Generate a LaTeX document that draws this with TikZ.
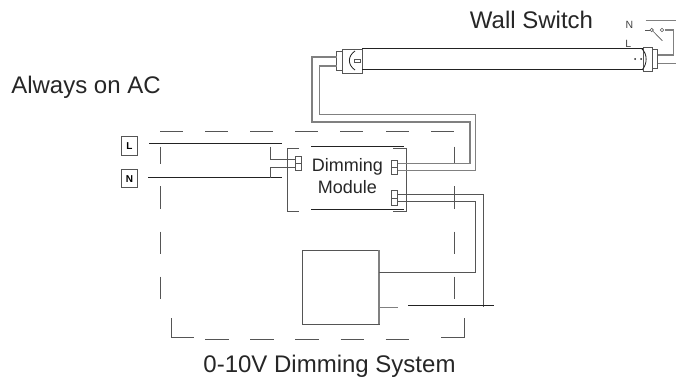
\documentclass[tikz,border=0pt]{standalone}
\usepackage{fontspec}
\setmainfont{Liberation Sans}
\definecolor{wireblack}{HTML}{222222}
\definecolor{wiredark}{HTML}{555555}
\definecolor{wiregray}{HTML}{808080}
\tikzset{
  node distance=2.5cm, auto,
  title/.style={font=\fontsize{18}{22}\selectfont, text=black!85, inner sep=0pt},
  bigtitle/.style={font=\fontsize{24}{28}\selectfont, text=black!85, inner sep=0pt, anchor=base},
  swlabel/.style={font=\fontsize{10.5}{10.5}\selectfont, text=black!75, inner sep=0pt},
  terminal/.style={draw=wiredark, line width=0.7pt, inner sep=0pt, outer sep=0pt, minimum width=6pt, minimum height=6.8pt},
  mainsbox/.style={draw=wiredark, line width=1pt, inner sep=0pt, outer sep=0pt, minimum width=15.6pt, minimum height=18.5pt, font=\fontsize{10}{10}\bfseries\selectfont},
  capbox/.style={draw=wiredark, line width=0.8pt, inner sep=0pt, outer sep=0pt},
  frame/.style={draw=wiredark, line width=0.8pt},
  blackline/.style={draw=wireblack, line width=1pt},
  darkwire/.style={draw=wiredark, line width=1pt},
  graywire/.style={draw=wiregray, line width=1.3pt},
}

\begin{document}
\begin{tikzpicture}[x=1pt,y=-1pt]
  \useasboundingbox (0,0) rectangle (676,380);
  % texts
  \node[bigtitle] (Wall)   at (531.5,28.3)  {Wall Switch};
  \node[bigtitle] (Always) at (86,93.5)     {Always on AC};
  \node[bigtitle] (System) at (329.5,372.7) {0-10V Dimming System};
  \node[title, align=center] (Mod) at (347.3,176) {Dimming\\Module};
  \node[swlabel] (Nsw) at (629.3,24.5) {N};
  \node[swlabel] (Lsw) at (628.3,43.5) {L};
  % mains
  \node[mainsbox] (L) at (129.5,145.8) {L};
  \node[mainsbox] (N) at (129.5,178.6) {N};
  \coordinate (La) at (149,143.3);  \coordinate (Lb) at (282,143.3);
  \coordinate (Na) at (148,177.3);  \coordinate (Nb) at (282,177.3);
  \draw[blackline] (La) to (Lb);
  \draw[blackline] (Na) to (Nb);
  % dashed frame
  \foreach \x in {160,205,250,295,340,386,431}
    \draw[frame] (\x,131) -- (\x+23.3,131);
  \foreach \x in {205,250,295,340.5,385.5}
    \draw[frame] (\x,339) -- (\x+23.5,339);
  \foreach \y/\z in {146.7/164,186/209,231.7/254.3,276.7/299.3} {
    \draw[frame] (160,\y) -- (160,\z);
    \draw[frame] (454.3,\y) -- (454.3,\z);
  }
  \draw[frame] (171.7,318) -- (171.7,337) -- (194.3,337);
  \draw[frame] (441,337) -- (464.3,337) -- (464.3,318);
  % module
  \draw[frame] (299,148.3) -- (287.7,148.3) -- (287.7,211.7) -- (299,211.7);
  \draw[frame] (393,148.3) -- (406,148.3) -- (406,211.7) -- (393,211.7);
  \coordinate (Ma) at (311,146);    \coordinate (Mb) at (404,146);
  \coordinate (Mc) at (311,209.3);  \coordinate (Md) at (404,209.3);
  \draw[blackline] (Ma) to (Mb);
  \draw[blackline] (Mc) to (Md);
  \node[terminal, minimum height=7.4pt] (InA)  at (298.7,159.7) {};
  \node[terminal, minimum height=7.4pt] (InB)  at (298.7,167)   {};
  \node[terminal] (OutA) at (394.7,163.8) {};
  \node[terminal] (OutB) at (394.7,170.6) {};
  \node[terminal, minimum height=7.2pt] (OutC) at (394.7,194.3) {};
  \node[terminal, minimum height=7.2pt] (OutD) at (394.7,201.5) {};
  % controller
  \node[draw=wiredark, line width=1pt, inner sep=0pt, outer sep=0pt, minimum width=76.7pt, minimum height=74pt] (Ctrl) at (340.7,287.3) {};
  \draw[graywire] (Ctrl.north east) to (Ctrl.south east);
  % tube
  \node[capbox, minimum width=20pt, minimum height=24pt] (CapL) at (352,61) {};
  \node[capbox, minimum width=5.4pt, minimum height=19pt] (PinL) at (339.4,60.5) {};
  \node[capbox, minimum width=9.7pt, minimum height=23.5pt] (CapR) at (647.8,59.2) {};
  \node[capbox, minimum width=5pt, minimum height=18.7pt] (PinR) at (655.2,58.7) {};
  \coordinate (TubeA) at (362,48.3);  \coordinate (TubeB) at (643,48.3);
  \coordinate (TubeC) at (362,69.3);  \coordinate (TubeD) at (643,69.3);
  \draw[blackline] (TubeA) to (TubeB);
  \draw[blackline] (TubeC) to (TubeD);
  \draw[draw=wireblack, line width=0.8pt] (355,51) .. controls (347.5,56) and (347.5,65) .. (355,70);
  \draw[draw=wireblack, line width=0.8pt] (642,49) .. controls (647.5,54) and (647.5,64) .. (642,70);
  \node[draw=wiredark, line width=0.6pt, inner sep=0pt, minimum width=6pt, minimum height=3pt] (Pill) at (357,61) {};
  \foreach \x in {635,641}
    \fill[wireblack] (\x,59) circle (1pt);
  % tube wires
  \coordinate (PinLa) at (336.7,57);
  \coordinate (PinLb) at (336.7,66);
  \coordinate (PinRa) at (657.7,55);
  \coordinate (PinRb) at (657.7,63.3);
  \draw[graywire] (PinLa) -- (312,57) -- (312,122) -- (470,122) -- (470,163.8) -- (OutA.east);
  \draw[graywire] (PinLb) -- (319.5,66) -- (319.5,114.7) -- (475.7,114.7) -- (475.7,170.6) -- (OutB.east);
  \draw[graywire] (PinRb) -- (676,63.3);
  \draw[graywire] (PinRa) -- (673.3,55) -- (673.3,30) -- (665,30);
  % switch
  \coordinate (SwA) at (645,30);
  \node[circle, draw=wiredark, line width=0.6pt, inner sep=0pt, minimum size=3.4pt] (ConA) at (651.7,30) {};
  \node[circle, draw=wiredark, line width=0.6pt, inner sep=0pt, minimum size=3.4pt] (ConB) at (662,30) {};
  \coordinate (Blade) at (662.3,40.7);
  \coordinate (SwTa) at (645.7,20);  \coordinate (SwTb) at (676,20);
  \draw[darkwire, line width=0.6pt] (SwA) to (ConA);
  \draw[darkwire, line width=0.6pt] (ConA) to (Blade);
  \draw[graywire, line width=0.8pt] (SwTa) to (SwTb);
  % module wires
  \coordinate (Ljoin) at (270.3,146.7);
  \coordinate (Njoin) at (270.3,178);
  \draw[darkwire] (Ljoin) |- (InA.west);
  \draw[darkwire] (Njoin) |- (InB.west);
  \coordinate (DimA) at (483.3,307);
  \coordinate (DimC) at (379,307.7);  \coordinate (DimD) at (397.7,307.7);
  \coordinate (BusA) at (408,305.3);  \coordinate (BusB) at (494,305.3);
  \draw[darkwire] (OutC.east) -| (DimA);
  \draw[darkwire] (OutD.east) -- (475.7,201.5) -- (475.7,272.3) -- (Ctrl.east |- 0,272.3);
  \draw[graywire] (DimC) to (DimD);
  \draw[blackline] (BusA) to (BusB);
\end{tikzpicture}
\end{document}
